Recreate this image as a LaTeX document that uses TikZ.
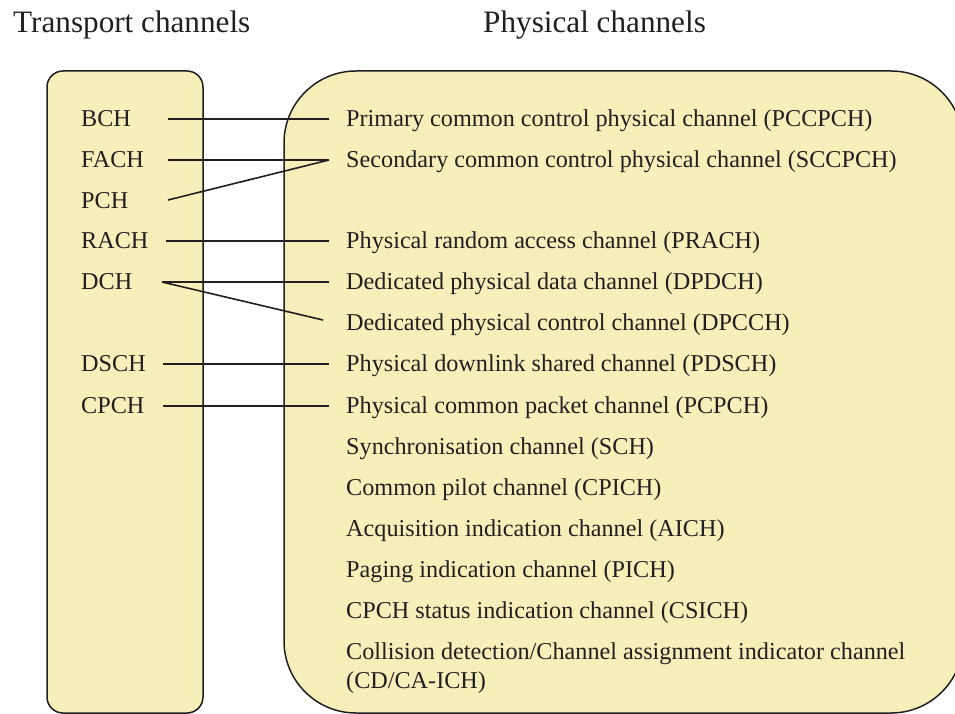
\documentclass[tikz,border=0pt]{standalone}
\usepackage{fontspec}
\setmainfont{Liberation Serif}
\definecolor{boxfill}{RGB}{246,239,186}
\definecolor{ink}{RGB}{35,31,32}
\begin{document}
\begin{tikzpicture}[x=1pt,y=-1pt,
  chbox/.style={draw=ink, fill=boxfill, line width=1.5pt},
  link/.style={draw=ink, line width=1.6pt},
  title/.style={anchor=base west, inner sep=0pt, text=ink, font=\fontsize{31.2}{36}\selectfont},
  lbl/.style={anchor=west, inner sep=0pt, text height=15.6pt, text depth=0pt, text=ink, font=\fontsize{24.2}{28}\selectfont},
  lbltwo/.style={anchor=north west, inner sep=0pt, text=ink, align=left, font=\fontsize{24.2}{28.5}\selectfont}]
\useasboundingbox (0,0) rectangle (955,714);
\clip (0,0) rectangle (955,714);

% column headings
\node[title] (ttl-t) at (13,32.3) {Transport channels};
\node[title] (ttl-p) at (483,32.3) {Physical channels};

% the two channel groups
\draw[chbox, rounded corners=16pt] (47,71) rectangle (203,713);
\draw[chbox, rounded corners=72pt] (284,71) rectangle (963,713);

% transport channels
\node[lbl] (bch)  at (81,119) {BCH};
\node[lbl] (fach) at (81,160) {FACH};
\node[lbl] (pch)  at (81,201) {PCH};
\node[lbl] (rach) at (81,241) {RACH};
\node[lbl] (dch)  at (81,282) {DCH};
\node[lbl] (dsch) at (81,364) {DSCH};
\node[lbl] (cpch) at (81,406) {CPCH};

% physical channels
\node[lbl] (pccpch) at (346,119) {Primary common control physical channel (PCCPCH)};
\node[lbl] (sccpch) at (346,160) {Secondary common control physical channel (SCCPCH)};
\node[lbl] (prach)  at (346,241) {Physical random access channel (PRACH)};
\node[lbl] (dpdch)  at (346,282) {Dedicated physical data channel (DPDCH)};
\node[lbl] (dpcch)  at (346,323) {Dedicated physical control channel (DPCCH)};
\node[lbl] (pdsch)  at (346,364) {Physical downlink shared channel (PDSCH)};
\node[lbl] (pcpch)  at (346,406) {Physical common packet channel (PCPCH)};
\node[lbl] (sch)    at (346,447) {Synchronisation channel (SCH)};
\node[lbl] (cpich)  at (346,488) {Common pilot channel (CPICH)};
\node[lbl] (aich)   at (346,529) {Acquisition indication channel (AICH)};
\node[lbl] (pich)   at (346,570) {Paging indication channel (PICH)};
\node[lbl] (csich)  at (346,611) {CPCH status indication channel (CSICH)};
\node[lbltwo] (cdca) at (346,643) {Collision detection/Channel assignment indicator channel\\(CD/CA-ICH)};

% connector ends on the transport side
\coordinate (bch-e)  at (168,119);
\coordinate (fach-e) at (168,160);
\coordinate (pch-e)  at (168,200);
\coordinate (rach-e) at (166,241);
\coordinate (dch-e)  at (162,282);
\coordinate (dsch-e) at (163,364);
\coordinate (cpch-e) at (163,406);

% mappings
\draw[link] (bch-e)  -- ([xshift=-17pt]pccpch.west);
\draw[link] (fach-e) -- ([xshift=-17pt]sccpch.west);
\draw[link] (pch-e)  -- ([xshift=-17pt]sccpch.west);
\draw[link] (rach-e) -- ([xshift=-17pt]prach.west);
\draw[link] (dch-e)  -- ([xshift=-17pt]dpdch.west);
\draw[link] (dch-e)  -- ([xshift=-23pt,yshift=3pt]dpcch.west);
\draw[link] (dsch-e) -- ([xshift=-17pt]pdsch.west);
\draw[link] (cpch-e) -- ([xshift=-17pt]pcpch.west);
\end{tikzpicture}
\end{document}
